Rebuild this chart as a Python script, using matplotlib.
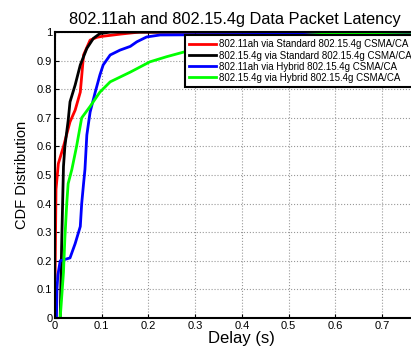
import numpy as np
import matplotlib
matplotlib.use("Agg")
import matplotlib.pyplot as plt

plt.rcParams['font.family'] = ['Liberation Sans', 'DejaVu Sans']

# Delay (s) / CDF pairs
std_11ah_x = [0.0, 0.001, 0.002, 0.007, 0.018, 0.032, 0.043, 0.054, 0.061, 0.075, 0.09, 0.1, 0.14, 0.18, 0.8]
std_11ah_y = [0.14, 0.30, 0.45, 0.54, 0.60, 0.686, 0.727, 0.79, 0.92, 0.972, 0.982, 0.985, 0.993, 1.0, 1.0]

std_154g_x = [0.011, 0.014, 0.018, 0.021, 0.028, 0.032, 0.043, 0.054, 0.068, 0.082, 0.096, 0.118, 0.8]
std_154g_y = [0.0, 0.25, 0.53, 0.60, 0.69, 0.756, 0.815, 0.885, 0.943, 0.978, 0.995, 1.0, 1.0]

hyb_11ah_x = [0.003, 0.004, 0.006, 0.011, 0.032, 0.043, 0.054, 0.057, 0.061, 0.064, 0.068, 0.075, 0.086,
              0.096, 0.103, 0.118, 0.139, 0.161, 0.175, 0.196, 0.225, 0.45, 0.55, 0.8]
hyb_11ah_y = [0.0, 0.10, 0.15, 0.20, 0.21, 0.26, 0.32, 0.40, 0.47, 0.52, 0.64, 0.72, 0.79,
              0.85, 0.885, 0.92, 0.937, 0.95, 0.966, 0.983, 0.99, 0.992, 1.0, 1.0]

hyb_154g_x = [0.011, 0.018, 0.021, 0.025, 0.028, 0.036, 0.046, 0.057, 0.075, 0.096, 0.118, 0.161, 0.203,
              0.239, 0.275, 0.30, 0.40, 0.50, 0.60, 0.75, 0.8]
hyb_154g_y = [0.0, 0.16, 0.28, 0.40, 0.47, 0.52, 0.60, 0.70, 0.74, 0.79, 0.826, 0.86, 0.896,
              0.914, 0.93, 0.937, 0.962, 0.985, 0.995, 1.0, 1.0]

labels = ['802.11ah via Standard 802.15.4g CSMA/CA',
          '802.15.4g via Standard 802.15.4g CSMA/CA',
          '802.11ah via Hybrid 802.15.4g CSMA/CA',
          '802.15.4g via Hybrid 802.15.4g CSMA/CA']
colors = ['#ff0000', '#000000', '#0000ff', '#00ff00']

fig = plt.figure(figsize=(4.11, 3.49), dpi=100)
ax = fig.add_axes([0.134, 0.089, 0.909, 0.819])

series = [(std_11ah_x, std_11ah_y), (std_154g_x, std_154g_y),
          (hyb_11ah_x, hyb_11ah_y), (hyb_154g_x, hyb_154g_y)]
for (x, y), c, lab in zip(series, colors, labels):
    ax.plot(x, y, color=c, linewidth=2, label=lab)

ax.set_xlim(0, 0.8)
ax.set_ylim(0, 1)
ax.set_xticks(np.arange(0, 0.75, 0.1))
ax.set_xticklabels(['0', '0.1', '0.2', '0.3', '0.4', '0.5', '0.6', '0.7'])
ax.set_yticks(np.arange(0, 1.01, 0.1))
ax.set_yticklabels(['0', '0.1', '0.2', '0.3', '0.4', '0.5', '0.6', '0.7', '0.8', '0.9', '1'])
ax.tick_params(direction='in', labelsize=8, length=3, top=True, right=True, pad=2)
ax.grid(True, linestyle=':', color='#999999', linewidth=0.8)
for s in ax.spines.values():
    s.set_linewidth(1.5)

ax.set_title('802.11ah and 802.15.4g Data Packet Latency', fontsize=11.8, pad=6, x=0.482)
ax.set_xlabel('Delay (s)', fontsize=12, labelpad=0)
ax.set_ylabel('CDF Distribution', fontsize=10.5, labelpad=6)

leg = fig.legend(loc='upper left', bbox_to_anchor=(185 / 411, 1 - 35 / 349), fontsize=7,
                 frameon=True, fancybox=False, framealpha=1, edgecolor='black',
                 handlelength=2.7, handletextpad=0.3, labelspacing=0.12, borderpad=0.45,
                 borderaxespad=0)
leg.get_frame().set_linewidth(1.5)

fig.savefig('out.png', dpi=100)
